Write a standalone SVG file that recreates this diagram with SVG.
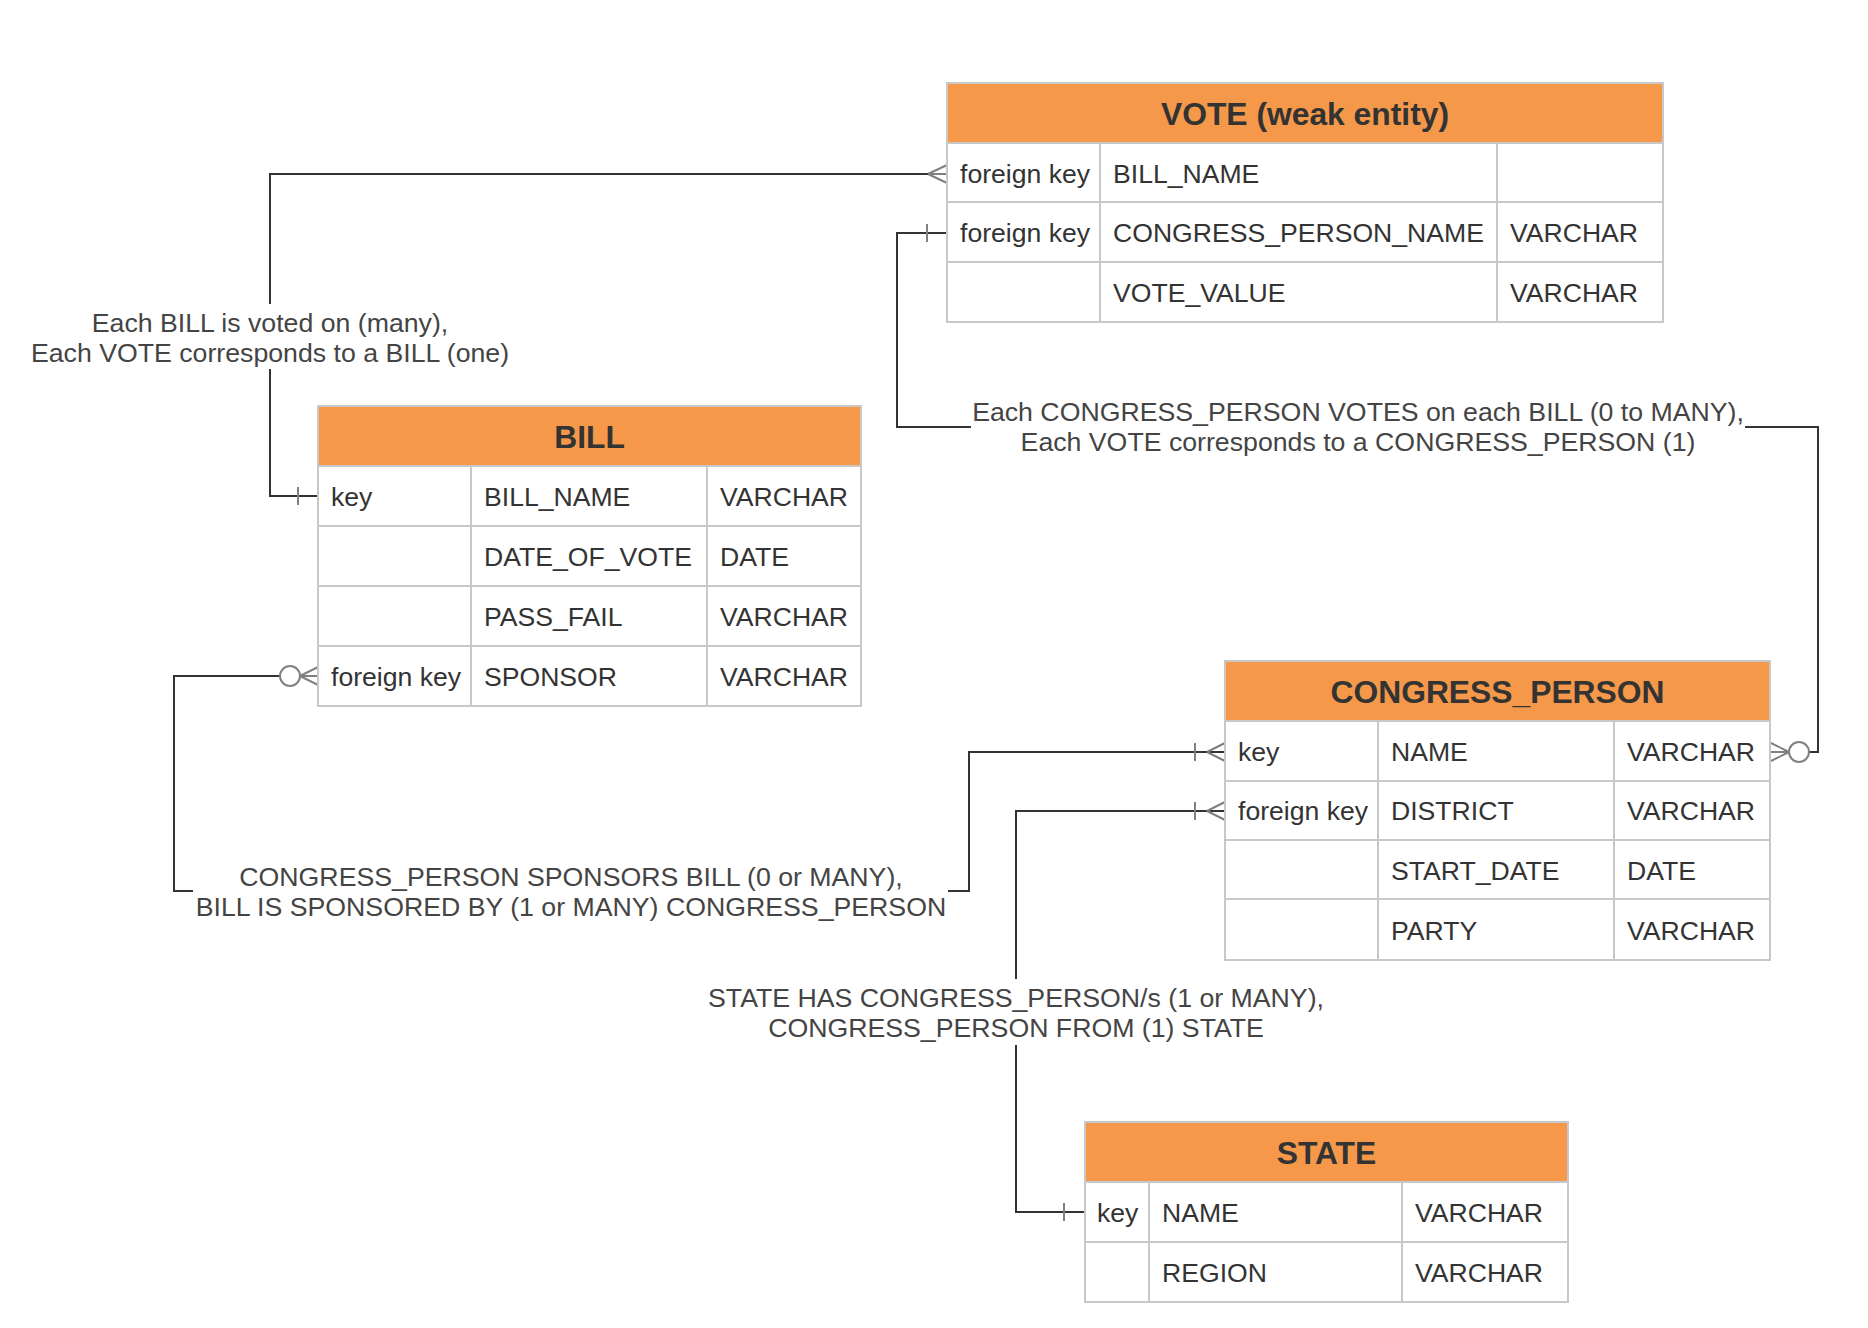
<svg xmlns="http://www.w3.org/2000/svg" width="1868" height="1328" viewBox="0 0 1868 1328">
<style>
  .bg { fill: #ffffff; }
  .cell { fill: #ffffff; stroke: #c8c8c8; stroke-width: 2; }
  .hdr { fill: #f5984a; stroke: #c8c8c8; stroke-width: 2; }
  .sep { stroke: #c8c8c8; stroke-width: 2; }
  .ht { font-family: "Liberation Sans", Arial, sans-serif; font-size: 31.8px; font-weight: bold; fill: #333333; text-anchor: middle; }
  .t { font-family: "Liberation Sans", Arial, sans-serif; font-size: 26.6px; fill: #333333; }
  .lbl { font-family: "Liberation Sans", Arial, sans-serif; font-size: 26.7px; fill: #444444; text-anchor: middle; }
  .ln { fill: none; stroke: #333333; stroke-width: 2; }
  .mk { fill: none; stroke: #808080; stroke-width: 2; }
  .mkc { fill: #ffffff; stroke: #808080; stroke-width: 2; }
</style>
<rect class="bg" x="0" y="0" width="1868" height="1328"/>

<g id="connectors">
  <!-- BILL.key (one) to VOTE.BILL_NAME (many) -->
  <g id="c-bill-vote">
    <path class="ln" d="M947,174 H270 V304"/>
    <path class="ln" d="M270,369 V496 H318"/>
    <path class="mk" d="M928,174 L947,165 M928,174 L947,174 M928,174 L947,183"/>
    <path class="mk" d="M298,487 V505"/>
  </g>
  <!-- VOTE.CONGRESS_PERSON_NAME (one) to CONGRESS_PERSON.NAME (zero or many) -->
  <g id="c-vote-cp">
    <path class="ln" d="M947,233 H897 V427 H971"/>
    <path class="ln" d="M1745,427 H1818 V752 H1809"/>
    <path class="mk" d="M927,224 V242"/>
    <circle class="mkc" cx="1799" cy="752" r="10"/>
    <path class="mk" d="M1789,752 L1771,743 M1789,752 L1771,752 M1789,752 L1771,761"/>
  </g>
  <!-- BILL.SPONSOR (zero or many) to CONGRESS_PERSON.NAME (one or many) -->
  <g id="c-bill-cp">
    <path class="ln" d="M280,676 H174 V891 H193"/>
    <path class="ln" d="M948,891 H969 V752 H1225"/>
    <circle class="mkc" cx="290" cy="676" r="10"/>
    <path class="mk" d="M300,676 L318,667 M300,676 L318,676 M300,676 L318,685"/>
    <path class="mk" d="M1207,752 L1225,743 M1207,752 L1225,761"/>
    <path class="mk" d="M1195,743 V761"/>
  </g>
  <!-- CONGRESS_PERSON.DISTRICT (one or many) to STATE.NAME (one) -->
  <g id="c-cp-state">
    <path class="ln" d="M1225,811 H1016 V979"/>
    <path class="ln" d="M1016,1045 V1212 H1085"/>
    <path class="mk" d="M1207,811 L1225,802 M1207,811 L1225,820"/>
    <path class="mk" d="M1195,802 V820"/>
    <path class="mk" d="M1064,1203 V1221"/>
  </g>
  <g id="labels">
    <text class="lbl" x="270" y="332">Each BILL is voted on (many),</text>
    <text class="lbl" x="270" y="362">Each VOTE corresponds to a BILL (one)</text>
    <text class="lbl" x="1358" y="421">Each CONGRESS_PERSON VOTES on each BILL (0 to MANY),</text>
    <text class="lbl" x="1358" y="451">Each VOTE corresponds to a CONGRESS_PERSON (1)</text>
    <text class="lbl" x="571" y="886">CONGRESS_PERSON SPONSORS BILL (0 or MANY),</text>
    <text class="lbl" x="571" y="916">BILL IS SPONSORED BY (1 or MANY) CONGRESS_PERSON</text>
    <text class="lbl" x="1016" y="1007">STATE HAS CONGRESS_PERSON/s (1 or MANY),</text>
    <text class="lbl" x="1016" y="1037">CONGRESS_PERSON FROM (1) STATE</text>
  </g>
</g>

<g id="vote">
  <rect class="cell" x="947" y="83" width="716" height="239"/>
  <rect class="hdr" x="947" y="83" width="716" height="60"/>
  <line class="sep" x1="947" y1="202" x2="1663" y2="202"/>
  <line class="sep" x1="947" y1="262" x2="1663" y2="262"/>
  <line class="sep" x1="1100" y1="143" x2="1100" y2="322"/>
  <line class="sep" x1="1497" y1="143" x2="1497" y2="322"/>
  <text class="ht" x="1305" y="125">VOTE (weak entity)</text>
  <text class="t" x="960" y="183">foreign key</text>
  <text class="t" x="1113" y="183">BILL_NAME</text>
  <text class="t" x="960" y="242">foreign key</text>
  <text class="t" x="1113" y="242">CONGRESS_PERSON_NAME</text>
  <text class="t" x="1510" y="242">VARCHAR</text>
  <text class="t" x="1113" y="302">VOTE_VALUE</text>
  <text class="t" x="1510" y="302">VARCHAR</text>
</g>

<g id="bill">
  <rect class="cell" x="318" y="406" width="543" height="300"/>
  <rect class="hdr" x="318" y="406" width="543" height="60"/>
  <line class="sep" x1="318" y1="526" x2="861" y2="526"/>
  <line class="sep" x1="318" y1="586" x2="861" y2="586"/>
  <line class="sep" x1="318" y1="646" x2="861" y2="646"/>
  <line class="sep" x1="471" y1="466" x2="471" y2="706"/>
  <line class="sep" x1="707" y1="466" x2="707" y2="706"/>
  <text class="ht" x="589.5" y="448">BILL</text>
  <text class="t" x="331" y="506">key</text>
  <text class="t" x="484" y="506">BILL_NAME</text>
  <text class="t" x="720" y="506">VARCHAR</text>
  <text class="t" x="484" y="566">DATE_OF_VOTE</text>
  <text class="t" x="720" y="566">DATE</text>
  <text class="t" x="484" y="626">PASS_FAIL</text>
  <text class="t" x="720" y="626">VARCHAR</text>
  <text class="t" x="331" y="686">foreign key</text>
  <text class="t" x="484" y="686">SPONSOR</text>
  <text class="t" x="720" y="686">VARCHAR</text>
</g>

<g id="congress_person">
  <rect class="cell" x="1225" y="661" width="545" height="299"/>
  <rect class="hdr" x="1225" y="661" width="545" height="60"/>
  <line class="sep" x1="1225" y1="781" x2="1770" y2="781"/>
  <line class="sep" x1="1225" y1="840" x2="1770" y2="840"/>
  <line class="sep" x1="1225" y1="899" x2="1770" y2="899"/>
  <line class="sep" x1="1378" y1="721" x2="1378" y2="960"/>
  <line class="sep" x1="1614" y1="721" x2="1614" y2="960"/>
  <text class="ht" x="1497.5" y="703">CONGRESS_PERSON</text>
  <text class="t" x="1238" y="761">key</text>
  <text class="t" x="1391" y="761">NAME</text>
  <text class="t" x="1627" y="761">VARCHAR</text>
  <text class="t" x="1238" y="820">foreign key</text>
  <text class="t" x="1391" y="820">DISTRICT</text>
  <text class="t" x="1627" y="820">VARCHAR</text>
  <text class="t" x="1391" y="880">START_DATE</text>
  <text class="t" x="1627" y="880">DATE</text>
  <text class="t" x="1391" y="940">PARTY</text>
  <text class="t" x="1627" y="940">VARCHAR</text>
</g>

<g id="state">
  <rect class="cell" x="1085" y="1122" width="483" height="180"/>
  <rect class="hdr" x="1085" y="1122" width="483" height="60"/>
  <line class="sep" x1="1085" y1="1242" x2="1568" y2="1242"/>
  <line class="sep" x1="1149" y1="1182" x2="1149" y2="1302"/>
  <line class="sep" x1="1402" y1="1182" x2="1402" y2="1302"/>
  <text class="ht" x="1326.5" y="1164">STATE</text>
  <text class="t" x="1097" y="1222">key</text>
  <text class="t" x="1162" y="1222">NAME</text>
  <text class="t" x="1415" y="1222">VARCHAR</text>
  <text class="t" x="1162" y="1282">REGION</text>
  <text class="t" x="1415" y="1282">VARCHAR</text>
</g>
</svg>
